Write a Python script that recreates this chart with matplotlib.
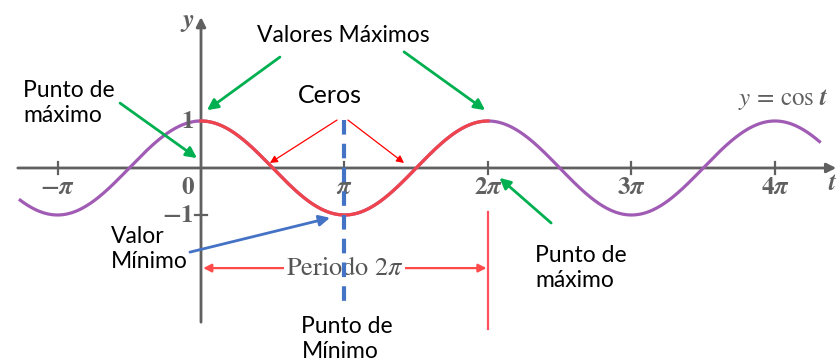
import numpy as np
import matplotlib.pyplot as plt

plt.rcParams["mathtext.fontset"] = "stix"

# ticks (multiples of pi) and their labels
x_ticks = [-1, 0, 1, 2, 3, 4]
x_labels = [r"$\mathbf{-}\boldsymbol{\pi}$", r"$\mathbf{0}$", r"$\boldsymbol{\pi}$",
            r"$\mathbf{2}\boldsymbol{\pi}$", r"$\mathbf{3}\boldsymbol{\pi}$",
            r"$\mathbf{4}\boldsymbol{\pi}$"]
y_ticks = [1, -1]
y_labels = [r"$\mathbf{1}$", r"$\mathbf{-1}$"]

# domain of the drawn curve, in units of pi
t_left, t_right = -1.26, 4.31
period_start, period_end = 0.0, 2.0

RED = "#f0444c"
PURPLE = "#a05cb4"
GREEN = "#00b050"
BLUE = "#4472c4"
AXIS = "#606060"
SANS = "Lato"

fig = plt.figure(figsize=(8.39, 3.63), dpi=100)
ax = fig.add_axes([0, 0, 1, 1])
ax.set_xlim(-1.4007, 4.446)
ax.set_ylim(-4.149, 3.574)
ax.axis("off")

# curve: purple outside one period, red over one period
t = np.linspace(t_left, t_right, 800)
ax.plot(t, np.cos(np.pi * t), color=PURPLE, lw=2.3, zorder=3)
tp = np.linspace(period_start, period_end, 300)
ax.plot(tp, np.cos(np.pi * tp), color=RED, lw=2.3, zorder=4)

# axes with arrows
ax.annotate("", xy=(4.446, 0), xytext=(-1.296, 0),
            arrowprops=dict(arrowstyle="-|>", color=AXIS, lw=2, mutation_scale=14), zorder=2)
ax.annotate("", xy=(0, 3.27), xytext=(0, -3.34),
            arrowprops=dict(arrowstyle="-|>", color=AXIS, lw=2, mutation_scale=14), zorder=2)
ax.text(-0.098, 3.13, r"$\boldsymbol{y}$", fontsize=19, color=AXIS, ha="center", va="center")
ax.text(4.405, -0.33, r"$\boldsymbol{t}$", fontsize=18, color=AXIS, ha="center", va="center")

# ticks
for xv, lab in zip(x_ticks, x_labels):
    if xv != 0:
        ax.plot([xv, xv], [-0.13, 0.13], color=AXIS, lw=1.6, zorder=2)
    ax.text(xv - (0.09 if xv == 0 else 0), -0.40, lab,
            fontsize=18, color=AXIS, ha="center", va="center", zorder=5)
for yv, lab in zip(y_ticks, y_labels):
    ax.plot([-0.04, 0.04], [yv, yv], color=AXIS, lw=1.6, zorder=2)
    ax.text(-0.05, yv, lab, fontsize=18, color=AXIS, ha="right", va="center", zorder=5)

ax.text(4.06, 1.45, r"$y\,=\,\cos\,\boldsymbol{t}$", fontsize=18, color=AXIS,
        ha="center", va="center")


def arrow(x0, y0, x1, y1, color, lw=2, ms=16):
    ax.annotate("", xy=(x1, y1), xytext=(x0, y0),
                arrowprops=dict(arrowstyle="-|>", color=color, lw=lw,
                                mutation_scale=ms, shrinkA=0, shrinkB=0), zorder=6)


# maxima
ax.text(0.99, 2.81, "Valores Máximos", fontfamily=SANS, fontsize=16.5,
        ha="center", va="center")
arrow(0.55, 2.36, 0.042, 1.23, GREEN)
arrow(1.415, 2.47, 1.98, 1.23, GREEN)

ax.text(-1.24, 1.38, "Punto de\nmáximo", fontfamily=SANS, fontsize=16.5,
        ha="left", va="center", linespacing=1.2)
arrow(-0.564, 1.38, -0.028, 0.21, GREEN)

ax.text(2.33, -2.13, "Punto de\nmáximo", fontfamily=SANS, fontsize=16.5,
        ha="left", va="center", linespacing=1.2)
arrow(2.44, -1.17, 2.08, -0.21, GREEN)

# zeros
ax.text(0.90, 1.55, "Ceros", fontfamily=SANS, fontsize=18, ha="center", va="center")
arrow(0.948, 1.02, 0.48, 0.106, "red", lw=0.9, ms=11)
arrow(1.024, 1.02, 1.415, 0.106, "red", lw=0.9, ms=11)

# minimum
ax.plot([1.0, 1.0], [1.02, -2.87], color=BLUE, lw=3, ls=(0, (3.5, 2.2)), zorder=5)
ax.text(-0.627, -1.72, "Valor\nMínimo", fontfamily=SANS, fontsize=16.5,
        ha="left", va="center", linespacing=1.2)
arrow(-0.077, -1.79, 0.899, -1.06, BLUE)
ax.text(0.70, -3.64, "Punto de\nMínimo", fontfamily=SANS, fontsize=16.5,
        ha="left", va="center", linespacing=1.2)

# period
ax.annotate("", xy=(period_start + 0.015, -2.13), xytext=(period_end - 0.01, -2.13),
            arrowprops=dict(arrowstyle="<|-|>", color="#ff4a4a", lw=1.6,
                            mutation_scale=12, shrinkA=0, shrinkB=0), zorder=4)
ax.plot([period_end, period_end], [-0.94, -3.43], color="#ff5060", lw=1.6, zorder=4)
ax.text(1.0, -2.13, r"$\mathrm{Periodo}\ 2\pi$", fontsize=19, color="#555555",
        ha="center", va="center", zorder=4,
        bbox=dict(facecolor="white", edgecolor="none", pad=1))

plt.savefig("out.png", dpi=100)
